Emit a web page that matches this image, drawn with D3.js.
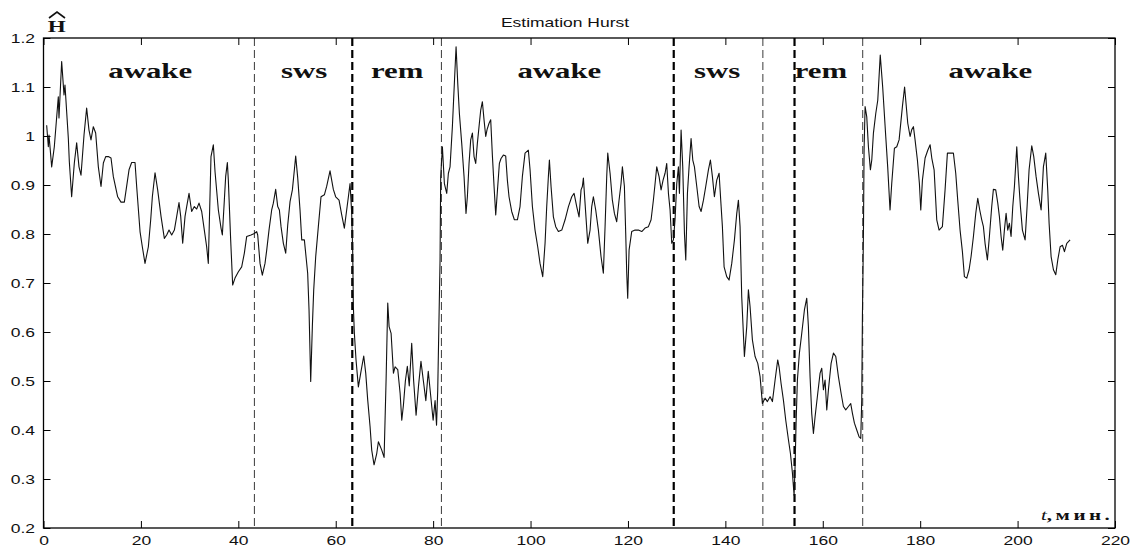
<!DOCTYPE html>
<html>
<head>
<meta charset="utf-8">
<script src="https://cdn.jsdelivr.net/npm/d3@7"></script>
<style>
  html, body { margin: 0; padding: 0; background: #fff; }
  svg { display: block; }
</style>
</head>
<body>
<svg id="chart" width="1132" height="547"></svg>
<script>
// Hurst exponent estimate over the night (time in minutes)
const minutes = [
  0.65, 0.99, 1.13, 1.68, 2.22, 3.04, 3.18, 3.73, 4.21, 4.41,
  5.10, 5.30, 5.78, 6.33, 6.81, 7.29, 7.70, 8.32, 8.86, 9.34,
  9.75, 10.23, 10.71, 11.26, 11.81, 12.29, 12.77, 13.31, 13.86, 14.34,
  15.23, 15.91, 16.60, 17.56, 18.10, 18.79, 19.13, 19.82, 20.29, 20.84,
  21.53, 22.01, 22.35, 22.90, 23.44, 24.13, 24.81, 25.29, 25.77, 26.32,
  26.87, 27.35, 27.82, 28.17, 28.58, 29.06, 29.40, 29.88, 30.42, 30.97,
  31.45, 31.93, 32.48, 33.02, 33.50, 33.84, 34.39, 34.87, 35.22, 35.90,
  36.45, 36.72, 37.13, 37.40, 37.75, 37.95, 38.43, 38.84, 39.32, 40.01,
  40.69, 41.24, 41.72, 42.61, 43.29, 43.77, 43.98, 44.46, 44.93, 45.48,
  45.83, 46.30, 46.85, 47.19, 47.67, 48.09, 48.43, 48.77, 49.25, 49.73,
  50.14, 50.62, 51.10, 51.51, 51.78, 52.20, 52.67, 53.02, 53.56, 54.24,
  54.52, 54.86, 55.20, 55.48, 55.89, 56.43, 56.98, 57.67, 58.14, 58.83,
  59.51, 59.99, 60.68, 61.23, 61.77, 62.25, 62.60, 62.94, 63.28, 63.49,
  63.62, 63.83, 64.17, 64.65, 65.13, 65.75, 66.16, 66.57, 67.05, 67.39,
  67.87, 68.42, 68.76, 69.45, 69.93, 70.34, 70.68, 70.96, 71.37, 71.85,
  72.19, 72.74, 73.22, 73.56, 73.90, 74.30, 74.70, 75.10, 75.60, 76.00,
  76.50, 77.00, 77.50, 78.00, 78.50, 79.00, 79.50, 80.00, 80.40, 80.70,
  80.94, 81.42, 81.55, 81.90, 82.31, 82.79, 83.13, 83.47, 83.95, 84.36,
  84.71, 85.05, 85.39, 85.87, 86.35, 86.75, 87.03, 87.37, 87.71, 88.06,
  88.40, 88.74, 89.08, 89.42, 89.77, 90.11, 90.45, 90.80, 91.07, 91.48,
  91.82, 92.16, 92.51, 92.85, 93.26, 93.60, 93.94, 94.42, 94.90, 95.24,
  95.58, 96.13, 96.68, 97.30, 97.84, 98.32, 98.87, 99.55, 99.90, 100.38,
  100.92, 101.47, 101.95, 102.50, 102.98, 103.32, 103.66, 103.87, 104.21, 104.69,
  105.17, 105.72, 106.41, 107.09, 107.78, 108.46, 108.94, 109.48, 109.96, 110.37,
  110.64, 110.85, 111.19, 111.74, 112.22, 112.56, 112.90, 113.38, 113.93, 114.47,
  114.95, 115.30, 115.64, 115.85, 116.33, 116.80, 117.22, 117.69, 118.17, 118.58,
  118.86, 119.27, 119.54, 119.75, 119.95, 120.23, 120.77, 121.46, 122.14, 122.83,
  123.51, 124.20, 124.75, 125.22, 125.57, 125.91, 126.39, 126.80, 127.21, 127.62,
  127.96, 128.31, 128.65, 128.99, 129.33, 129.67, 130.02, 130.36, 130.57, 130.91,
  131.25, 131.60, 131.87, 132.21, 132.55, 132.96, 133.31, 133.65, 134.13, 134.61,
  135.02, 135.50, 135.97, 136.52, 136.93, 137.34, 137.75, 138.23, 138.71, 139.05,
  139.39, 139.74, 140.28, 140.76, 141.31, 141.86, 142.34, 142.68, 143.02, 143.36,
  143.91, 144.39, 144.73, 145.07, 145.55, 146.10, 146.65, 147.13, 147.60, 148.15,
  148.63, 149.18, 149.66, 150.21, 150.75, 151.03, 151.44, 151.92, 152.40, 152.95,
  153.36, 153.77, 154.11, 154.31, 154.52, 154.79, 155.20, 155.68, 156.23, 156.71,
  157.05, 157.39, 157.73, 158.08, 158.42, 158.97, 159.45, 159.79, 160.13, 160.47,
  160.82, 161.16, 161.71, 162.19, 162.67, 163.21, 163.76, 164.24, 164.72, 165.26,
  165.74, 166.09, 166.50, 166.98, 167.46, 167.80, 168.00, 168.14, 168.35, 168.48,
  168.69, 169.03, 169.37, 169.78, 170.06, 170.40, 170.88, 171.29, 171.80, 172.30,
  172.93, 173.33, 173.81, 174.16, 174.71, 175.19, 175.67, 176.08, 176.35, 176.80,
  177.45, 177.93, 178.27, 178.61, 178.95, 179.43, 179.84, 180.12, 180.46, 181.01,
  181.56, 182.04, 182.38, 182.86, 183.40, 183.88, 184.56, 185.11, 185.59, 186.14,
  186.82, 187.30, 187.71, 188.19, 188.67, 189.08, 189.56, 190.04, 190.45, 190.93,
  191.41, 191.82, 192.23, 192.64, 192.98, 193.32, 193.80, 194.21, 194.69, 195.03,
  195.51, 195.93, 196.27, 196.61, 196.95, 197.29, 197.64, 197.98, 198.32, 198.66,
  199.01, 199.35, 199.83, 200.17, 200.58, 200.99, 201.54, 201.95, 202.36, 202.91,
  203.32, 203.80, 204.28, 204.83, 205.30, 205.78, 206.19, 206.47, 206.88, 207.36,
  207.84, 208.25, 208.73, 209.21, 209.62, 210.10, 210.78
];

const hurst = [
  1.022, 0.978, 1.002, 0.937, 0.978, 1.080, 1.037, 1.152, 1.084, 1.104,
  0.995, 0.948, 0.876, 0.945, 0.986, 0.937, 0.920, 1.002, 1.057, 1.012,
  0.992, 1.019, 1.006, 0.937, 0.897, 0.945, 0.958, 0.958, 0.955, 0.917,
  0.876, 0.865, 0.865, 0.931, 0.946, 0.946, 0.897, 0.805, 0.774, 0.740,
  0.774, 0.829, 0.876, 0.925, 0.890, 0.836, 0.791, 0.798, 0.808, 0.798,
  0.808, 0.836, 0.864, 0.836, 0.781, 0.836, 0.856, 0.883, 0.846, 0.856,
  0.851, 0.863, 0.846, 0.808, 0.774, 0.740, 0.958, 0.982, 0.927, 0.849,
  0.812, 0.798, 0.869, 0.917, 0.946, 0.910, 0.788, 0.696, 0.710, 0.723,
  0.733, 0.761, 0.795, 0.798, 0.801, 0.805, 0.798, 0.740, 0.716, 0.740,
  0.767, 0.808, 0.849, 0.863, 0.891, 0.856, 0.849, 0.815, 0.781, 0.761,
  0.818, 0.866, 0.890, 0.931, 0.959, 0.914, 0.849, 0.788, 0.788, 0.720,
  0.645, 0.499, 0.611, 0.686, 0.754, 0.815, 0.876, 0.880, 0.897, 0.929,
  0.891, 0.876, 0.869, 0.839, 0.812, 0.849, 0.876, 0.903, 0.842, 0.761,
  0.652, 0.597, 0.543, 0.488, 0.516, 0.551, 0.516, 0.461, 0.407, 0.359,
  0.329, 0.352, 0.376, 0.359, 0.344, 0.502, 0.659, 0.611, 0.597, 0.516,
  0.529, 0.523, 0.475, 0.420, 0.451, 0.500, 0.530, 0.490, 0.577, 0.500,
  0.430, 0.490, 0.540, 0.500, 0.460, 0.520, 0.470, 0.420, 0.460, 0.410,
  0.480, 0.747, 0.917, 0.978, 0.903, 0.883, 0.924, 0.937, 1.019, 1.108,
  1.182, 1.108, 1.046, 0.985, 0.917, 0.842, 0.876, 0.944, 0.992, 1.006,
  0.958, 0.944, 0.985, 1.019, 1.053, 1.070, 1.033, 0.999, 1.013, 1.026,
  1.033, 0.961, 0.897, 0.839, 0.897, 0.944, 0.954, 0.961, 0.959, 0.910,
  0.876, 0.846, 0.829, 0.829, 0.856, 0.917, 0.965, 0.971, 0.931, 0.856,
  0.808, 0.774, 0.740, 0.713, 0.781, 0.856, 0.917, 0.951, 0.897, 0.835,
  0.815, 0.805, 0.808, 0.829, 0.856, 0.876, 0.883, 0.856, 0.835, 0.890,
  0.897, 0.914, 0.863, 0.781, 0.808, 0.856, 0.876, 0.849, 0.808, 0.754,
  0.720, 0.815, 0.917, 0.965, 0.924, 0.869, 0.842, 0.825, 0.869, 0.903,
  0.937, 0.897, 0.801, 0.720, 0.669, 0.767, 0.805, 0.808, 0.808, 0.805,
  0.812, 0.815, 0.829, 0.869, 0.903, 0.937, 0.917, 0.890, 0.910, 0.924,
  0.944, 0.883, 0.849, 0.781, 0.788, 0.829, 0.903, 0.937, 0.883, 1.012,
  0.937, 0.801, 0.747, 0.883, 0.937, 0.995, 0.951, 0.937, 0.897, 0.856,
  0.846, 0.869, 0.897, 0.931, 0.951, 0.917, 0.876, 0.910, 0.924, 0.869,
  0.815, 0.733, 0.713, 0.706, 0.740, 0.788, 0.842, 0.869, 0.815, 0.672,
  0.550, 0.611, 0.686, 0.652, 0.584, 0.550, 0.536, 0.509, 0.454, 0.465,
  0.458, 0.468, 0.458, 0.502, 0.543, 0.529, 0.495, 0.461, 0.420, 0.380,
  0.352, 0.312, 0.267, 0.325, 0.414, 0.502, 0.557, 0.597, 0.645, 0.669,
  0.611, 0.509, 0.434, 0.393, 0.427, 0.475, 0.516, 0.526, 0.482, 0.502,
  0.441, 0.482, 0.536, 0.557, 0.550, 0.509, 0.475, 0.448, 0.441, 0.448,
  0.454, 0.434, 0.414, 0.400, 0.386, 0.383, 0.461, 0.631, 0.801, 0.971,
  1.060, 1.039, 0.978, 0.931, 0.951, 1.006, 1.046, 1.073, 1.165, 1.100,
  0.999, 0.937, 0.849, 0.903, 0.975, 0.978, 0.992, 1.033, 1.060, 1.100,
  1.026, 0.999, 1.013, 1.019, 0.992, 0.951, 0.903, 0.849, 0.910, 0.955,
  0.971, 0.982, 0.955, 0.931, 0.829, 0.808, 0.815, 0.890, 0.965, 0.965,
  0.965, 0.924, 0.869, 0.808, 0.764, 0.713, 0.710, 0.727, 0.754, 0.795,
  0.842, 0.873, 0.849, 0.829, 0.815, 0.781, 0.747, 0.795, 0.856, 0.891,
  0.890, 0.863, 0.835, 0.795, 0.767, 0.808, 0.842, 0.808, 0.822, 0.795,
  0.856, 0.897, 0.978, 0.917, 0.856, 0.808, 0.788, 0.856, 0.931, 0.980,
  0.958, 0.917, 0.883, 0.849, 0.937, 0.965, 0.890, 0.822, 0.754, 0.727,
  0.717, 0.747, 0.774, 0.777, 0.764, 0.781, 0.788
];

// Sleep stage boundaries (minutes) and their line weight class
const boundaryMinutes = [43.3, 63.4, 81.7, 129.4, 147.7, 154.2, 168.2];
const boundaryKind    = ["minor", "major", "minor", "major", "minor", "major", "minor"];

// Stage names and where each is written along the time axis
const stageNames        = ["awake", "sws", "rem", "awake", "sws", "rem", "awake"];
const stageLabelMinutes = [21.9, 53.5, 72.6, 105.9, 138.3, 159.6, 194.4];

const xTickValues = [0, 20, 40, 60, 80, 100, 120, 140, 160, 180, 200, 220];
const yTickValues = [0.2, 0.3, 0.4, 0.5, 0.6, 0.7, 0.8, 0.9, 1.0, 1.1, 1.2];

// ---------------------------------------------------------------------
const plot = { left: 43.5, right: 1115, top: 38, bottom: 528 };
const STRETCH = 1.4;          // wide lettering used throughout the figure
const SANS = "'Liberation Sans', Arial, Helvetica, sans-serif";
const SERIF = "'Liberation Serif', 'Times New Roman', serif";
const TICK = 7;

const svg = d3.select("#chart");

const x = d3.scaleLinear().domain([0, 220]).range([plot.left, plot.right]);
const y = d3.scaleLinear().domain([0.2, 1.2]).range([plot.bottom, plot.top]);

// dashed stage boundaries
svg.append("g")
  .selectAll("line")
  .data(boundaryMinutes)
  .join("line")
  .attr("x1", d => x(d)).attr("x2", d => x(d))
  .attr("y1", plot.top).attr("y2", plot.bottom)
  .attr("stroke", (d, i) => boundaryKind[i] === "major" ? "#000" : "#3a3a3a")
  .attr("stroke-width", (d, i) => boundaryKind[i] === "major" ? 2.2 : 1)
  .attr("stroke-dasharray", "8,4");

// Hurst estimate trace
const points = minutes.map((t, i) => [t, hurst[i]]);
svg.append("path")
  .datum(points)
  .attr("fill", "none")
  .attr("stroke", "#111")
  .attr("stroke-width", 1.1)
  .attr("stroke-linejoin", "round")
  .attr("d", d3.line().x(d => x(d[0])).y(d => y(d[1])));

// axes: labelled bottom/left, mirrored ticks on top/right, all ticks inward
const fmtY = d => String(+d.toFixed(1));

const gx = svg.append("g")
  .attr("transform", `translate(0,${plot.bottom})`)
  .call(d3.axisBottom(x).tickValues(xTickValues).tickSizeInner(-TICK).tickSizeOuter(0)
        .tickFormat(d3.format("d")));
const gy = svg.append("g")
  .attr("transform", `translate(${plot.left},0)`)
  .call(d3.axisLeft(y).tickValues(yTickValues).tickSizeInner(-TICK).tickSizeOuter(0)
        .tickFormat(fmtY));
const gt = svg.append("g")
  .attr("transform", `translate(0,${plot.top})`)
  .call(d3.axisTop(x).tickValues(xTickValues).tickSizeInner(-TICK).tickSizeOuter(0)
        .tickFormat(""));
const gr = svg.append("g")
  .attr("transform", `translate(${plot.right},0)`)
  .call(d3.axisRight(y).tickValues(yTickValues).tickSizeInner(-TICK).tickSizeOuter(0)
        .tickFormat(""));

[gx, gy, gt, gr].forEach(g => {
  g.select(".domain").remove();
  g.selectAll(".tick line").attr("stroke", "#000").attr("stroke-width", 1);
  g.attr("font-family", SANS).attr("font-size", 12.5);
});

gx.selectAll(".tick text")
  .attr("y", 8).attr("dy", "0.71em")
  .attr("fill", "#111")
  .attr("transform", `scale(${STRETCH},1)`);

gy.selectAll(".tick text")
  .attr("x", -8.5 / STRETCH).attr("dy", "0.36em")
  .attr("fill", "#111")
  .attr("transform", `scale(${STRETCH},1)`);

// frame
svg.append("rect")
  .attr("x", plot.left).attr("y", plot.top)
  .attr("width", plot.right - plot.left).attr("height", plot.bottom - plot.top)
  .attr("fill", "none").attr("stroke", "#000").attr("stroke-width", 1.3);

// title
svg.append("text")
  .attr("transform", `translate(565,27) scale(${STRETCH},1)`)
  .attr("text-anchor", "middle")
  .attr("font-family", SANS).attr("font-size", 12.5).attr("fill", "#111")
  .text("Estimation Hurst");

// stage names
svg.append("g")
  .selectAll("text")
  .data(stageNames)
  .join("text")
  .attr("transform", (d, i) => `translate(${x(stageLabelMinutes[i])},78) scale(${STRETCH},1)`)
  .attr("text-anchor", "middle")
  .attr("font-family", SERIF).attr("font-weight", "bold").attr("font-size", 22)
  .attr("fill", "#111")
  .text(d => d);

// y-axis symbol: H with a wide hat
svg.append("text")
  .attr("transform", `translate(56.7,31.5) scale(${STRETCH},1)`)
  .attr("text-anchor", "middle")
  .attr("font-family", SERIF).attr("font-weight", "bold").attr("font-size", 16.5)
  .attr("fill", "#111")
  .text("H");
svg.append("path")
  .attr("d", "M49,18 L57,12 L65,18")
  .attr("fill", "none").attr("stroke", "#111").attr("stroke-width", 1.6);

// time-axis unit
const unit = svg.append("text")
  .attr("transform", `translate(1041,520) scale(${STRETCH},1)`)
  .attr("font-family", SERIF).attr("font-size", 15).attr("fill", "#111");
unit.append("tspan").attr("font-style", "italic").text("t");
unit.append("tspan").attr("font-weight", "bold").attr("letter-spacing", 2.5).text(",мин.");
</script>
</body>
</html>
